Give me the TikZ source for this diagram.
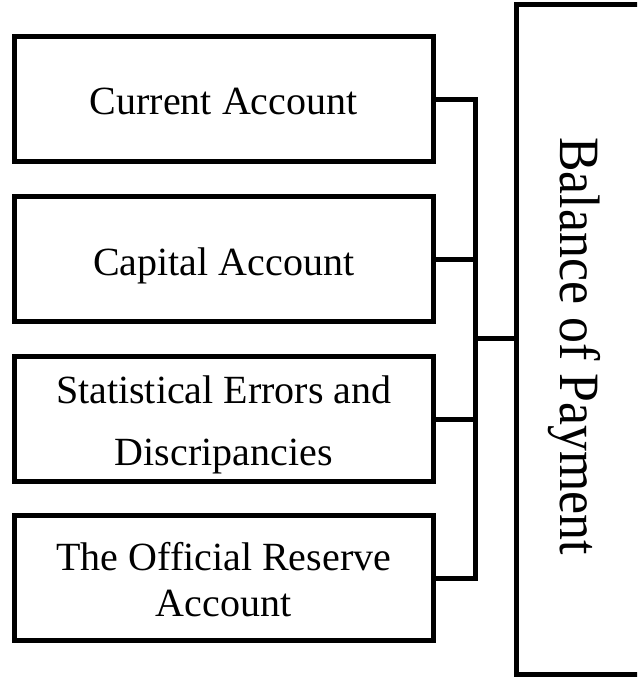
\documentclass[tikz,border=0pt]{standalone}
\usepackage{graphicx}
\usepackage{fontspec}
\setmainfont{Liberation Serif}
\begin{document}
\begin{tikzpicture}[x=1pt,y=-1pt,
  box/.style={draw, line width=5pt, minimum width=418.5pt, minimum height=125.5pt, inner sep=0pt},
  lab/.style={anchor=base, font=\fontsize{40}{48}\selectfont, inner sep=0pt},
  conn/.style={line width=5pt}]
\useasboundingbox (0,0) rectangle (637,679);
\clip (0,0) rectangle (637,679);
% left boxes
\node[box] (ca) at (223.75, 99.25) {};
\node[box] (cap) at (223.75, 259) {};
\node[box] (se) at (223.75, 419) {};
\node[box] (or) at (223.75, 578) {};
% right box
\node[draw, line width=5pt, minimum width=143.5pt, minimum height=670pt, inner sep=0pt] (bop) at (588.25, 339.5) {};
% labels
\node[lab] (t1) at (223.75, 115) {Current Account};
\node[lab] (t2) at (223.75, 275) {Capital Account};
\node[lab] (t3a) at (223.75, 403) {Statistical Errors and};
\node[lab] (t3b) at (223.75, 465) {Discripancies};
\node[lab] (t4a) at (223.75, 570) {The Official Reserve};
\node[lab] (t4b) at (223.75, 616) {Account};
\node[rotate=-90, inner sep=0pt, font=\fontsize{57}{64}\selectfont] (tb) at (574, 346) {\scalebox{0.91}[1]{Balance of Payment}};
% connectors
\coordinate (j) at (475, 338);
\draw[conn] (ca.east) -- (ca.east -| j) -- (or.east -| j) -- (or.east);
\draw[conn] (cap.east) -- (cap.east -| j);
\draw[conn] (se.east) -- (se.east -| j);
\draw[conn] (j) -- (j -| bop.west);
\end{tikzpicture}
\end{document}
